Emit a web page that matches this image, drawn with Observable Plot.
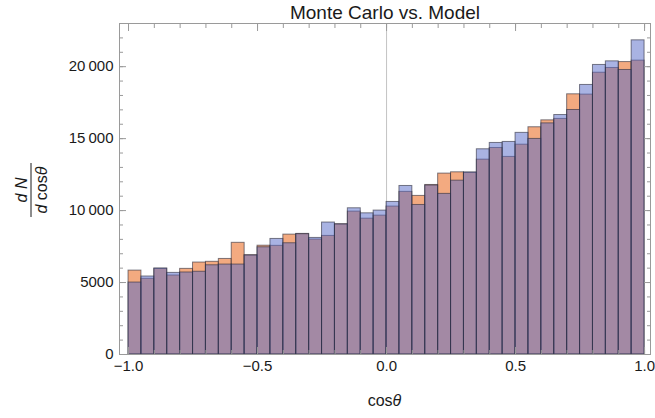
<!DOCTYPE html>
<html>
<head>
<meta charset="utf-8">
<script src="https://cdn.jsdelivr.net/npm/d3@7"></script>
<script src="https://cdn.jsdelivr.net/npm/@observablehq/plot@0.6"></script>
<style>
  html, body { margin: 0; padding: 0; background: #fff; }
  #chart { width: 655px; height: 418px; }
</style>
</head>
<body>
<div id="chart"></div>
<script>
// ---- data ----
const binWidth = 0.05;
const binStart = d3.range(40).map(i => -1 + i * binWidth); // bin left edges
const monteCarlo = [
  5830, 5260, 5950, 5490, 5950, 6390, 6440, 6640, 7760, 6900,
  7560, 7550, 8330, 8380, 7990, 8240, 9050, 9930, 9440, 9650,
  10280, 11300, 11020, 11780, 12570, 12660, 12630, 13540, 14350, 13730,
  14580, 15790, 16270, 16370, 18080, 18060, 19580, 19910, 20320, 20420
];
const model = [
  5000, 5420, 5980, 5670, 5700, 5750, 6200, 6250, 6250, 6880,
  7450, 8030, 7730, 8360, 8100, 9170, 9040, 10160, 9810, 10000,
  10600, 11710, 10390, 11740, 11160, 12080, 12650, 14260, 14700, 14770,
  15400, 14980, 16060, 16640, 16990, 18730, 20120, 20370, 19770, 21830
];
const xMajor = [-1, -0.5, 0, 0.5, 1];
const xMajorLabels = ["\u22121.0", "\u22120.5", "0.0", "0.5", "1.0"];
const xMinor = d3.range(-10, 11).map(i => i / 10);
const yMajor = [0, 5000, 10000, 15000, 20000];
const yMajorLabels = ["0", "5000", "10\u2009000", "15\u2009000", "20\u2009000"];
const yMinor = d3.range(0, 24).map(i => i * 1000);

const title = "Monte Carlo vs. Model";

const rowsMC = binStart.map((x, i) => ({x1: x, x2: x + binWidth, y: monteCarlo[i]}));
const rowsModel = binStart.map((x, i) => ({x1: x, x2: x + binWidth, y: model[i]}));

const xLab = new Map(xMajor.map((d, i) => [d, xMajorLabels[i]]));
const yLab = new Map(yMajor.map((d, i) => [d, yMajorLabels[i]]));

const tickColor = "#9a9a9a";
const W = 655, H = 418;
const mL = 119, mR = 5, mT = 23, mB = 64;

const plot = Plot.plot({
  width: W,
  height: H,
  marginLeft: mL,
  marginRight: mR,
  marginTop: mT,
  marginBottom: mB,
  style: {fontFamily: "'Liberation Sans', Arial, sans-serif", fontSize: "15px", color: "#1a1a1a", background: "#fff"},
  x: {domain: [-1.035, 1.023], axis: null},
  y: {domain: [0, 23000], axis: null},
  marks: [
    Plot.ruleX([0], {stroke: "#c4c4c4", strokeWidth: 1}),
    Plot.rectY(rowsMC, {x1: "x1", x2: "x2", y: "y", inset: 0, fill: "#ec7c3c", fillOpacity: 0.65, stroke: "#2b2b3a", strokeOpacity: 0.6, strokeWidth: 1}),
    Plot.rectY(rowsModel, {x1: "x1", x2: "x2", y: "y", inset: 0, fill: "#5367c7", fillOpacity: 0.5, stroke: "#2b2b3a", strokeOpacity: 0.6, strokeWidth: 1}),
    Plot.frame({stroke: tickColor}),
    // minor ticks (inward)
    Plot.axisY(yMinor, {anchor: "left", tickSize: 4, dx: 4, tickFormat: () => "", stroke: tickColor, label: null}),
    Plot.axisY(yMinor, {anchor: "right", tickSize: 4, dx: -4, tickFormat: () => "", stroke: tickColor, label: null}),
    Plot.axisX(xMinor, {anchor: "bottom", tickSize: 4, dy: -4, tickFormat: () => "", stroke: tickColor, label: null}),
    Plot.axisX(xMinor, {anchor: "top", tickSize: 4, dy: 4, tickFormat: () => "", stroke: tickColor, label: null}),
    // major ticks (inward)
    Plot.axisY(yMajor, {anchor: "left", tickSize: 7, dx: 7, tickFormat: () => "", stroke: tickColor, label: null}),
    Plot.axisY(yMajor, {anchor: "right", tickSize: 7, dx: -7, tickFormat: () => "", stroke: tickColor, label: null}),
    Plot.axisX(xMajor, {anchor: "bottom", tickSize: 7, dy: -7, tickFormat: () => "", stroke: tickColor, label: null}),
    Plot.axisX(xMajor, {anchor: "top", tickSize: 7, dy: 7, tickFormat: () => "", stroke: tickColor, label: null}),
    // tick labels
    Plot.axisY(yMajor, {anchor: "left", tickSize: 0, tickPadding: 6, tickFormat: d => yLab.get(d), fill: "#1a1a1a", fontSize: 15, label: null}),
    Plot.axisX(xMajor, {anchor: "bottom", tickSize: 0, tickPadding: 6, tickFormat: d => xLab.get(d), fill: "#1a1a1a", fontSize: 15, label: null}),
    // title
    Plot.text([title], {frameAnchor: "top", lineAnchor: "bottom", dy: -5, fontSize: 19, fill: "#1a1a1a"})
  ]
});

const svg = d3.select(plot);
// x label: cosθ
const xl = svg.append("text")
  .attr("x", mL + (W - mL - mR) / 2)
  .attr("y", 406)
  .attr("text-anchor", "middle")
  .attr("font-size", 16)
  .attr("fill", "#1a1a1a");
xl.append("tspan").text("cos");
xl.append("tspan").attr("font-style", "italic").text("\u03b8");

// y label: dN / d cosθ (rotated fraction)
const cy = 190;
const g = svg.append("g").attr("transform", `translate(31,${cy}) rotate(-90)`).attr("fill", "#1a1a1a").attr("font-size", 16);
const num = g.append("text").attr("x", 0).attr("y", -4).attr("text-anchor", "middle");
num.append("tspan").attr("font-style", "italic").text("d N");
g.append("line").attr("x1", -27).attr("x2", 27).attr("y1", 0).attr("y2", 0).attr("stroke", "#1a1a1a").attr("stroke-width", 1);
const den = g.append("text").attr("x", 0).attr("y", 16).attr("text-anchor", "middle");
den.append("tspan").attr("font-style", "italic").text("d ");
den.append("tspan").text("cos");
den.append("tspan").attr("font-style", "italic").text("\u03b8");

document.getElementById("chart").appendChild(plot);
</script>
</body>
</html>
